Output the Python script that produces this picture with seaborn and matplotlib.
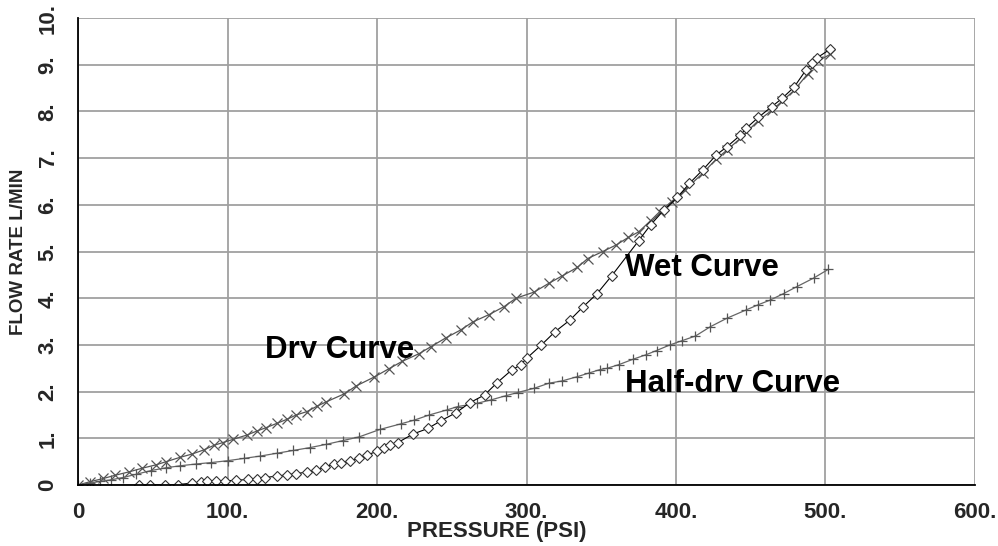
import matplotlib
matplotlib.use("Agg")
import matplotlib.pyplot as plt
import seaborn as sns
from matplotlib.transforms import Bbox, TransformedBbox

# ---- data ----
dry_x = [0, 8, 17, 25, 34, 43, 52, 59, 68, 76, 84, 91, 97, 104, 113, 120, 126, 133, 140, 146,
         153, 160, 166, 178, 186, 198, 208, 217, 228, 236, 246, 256, 264, 275, 285, 293, 305,
         315, 324, 334, 341, 351, 360, 368, 375, 383, 389, 397, 406, 418, 427, 434, 443, 447,
         455, 464, 471, 479, 488, 491, 495, 503]
dry_y = [0, 0.07, 0.14, 0.21, 0.28, 0.36, 0.43, 0.50, 0.59, 0.66, 0.75, 0.85, 0.91, 0.98, 1.07,
         1.16, 1.23, 1.32, 1.41, 1.50, 1.57, 1.69, 1.78, 1.95, 2.12, 2.31, 2.49, 2.65, 2.81, 2.96,
         3.15, 3.32, 3.49, 3.65, 3.82, 4.0, 4.13, 4.32, 4.48, 4.66, 4.85, 5.0, 5.14, 5.3, 5.42,
         5.66, 5.85, 6.07, 6.32, 6.68, 6.98, 7.17, 7.42, 7.55, 7.8, 8.02, 8.22, 8.45, 8.8, 8.95,
         9.08, 9.22]

wet_x = [41, 48, 58, 67, 76, 82, 86, 92, 98, 106, 114, 120, 125, 133, 140, 146, 153, 159, 165,
         171, 176, 182, 188, 193, 200, 205, 209, 214, 224, 234, 243, 253, 262, 272, 280, 290,
         296, 300, 310, 319, 329, 338, 347, 357, 375, 383, 392, 401, 409, 418, 427, 434, 443,
         447, 455, 464, 471, 479, 487, 491, 494, 503]
wet_y = [0, 0, 0, 0.01, 0.04, 0.06, 0.08, 0.09, 0.09, 0.1, 0.12, 0.13, 0.16, 0.19, 0.22, 0.24,
         0.28, 0.32, 0.39, 0.44, 0.48, 0.52, 0.57, 0.64, 0.72, 0.8, 0.85, 0.91, 1.09, 1.21, 1.38,
         1.55, 1.76, 1.93, 2.18, 2.46, 2.57, 2.71, 3.0, 3.28, 3.53, 3.82, 4.09, 4.48, 5.23, 5.57,
         5.89, 6.16, 6.46, 6.75, 7.07, 7.24, 7.49, 7.64, 7.87, 8.1, 8.28, 8.52, 8.89, 9.03, 9.14,
         9.33]

half_x = [0, 8, 15, 22, 30, 39, 49, 59, 68, 79, 89, 100, 111, 122, 133, 144, 155, 166, 177,
          188, 202, 216, 225, 235, 247, 254, 267, 276, 286, 294, 305, 315, 324, 334, 342, 349,
          354, 362, 371, 380, 387, 396, 404, 413, 423, 434, 447, 455, 463, 472, 481, 492, 502]
half_y = [0, 0.04, 0.08, 0.11, 0.16, 0.23, 0.31, 0.37, 0.41, 0.45, 0.48, 0.52, 0.57, 0.62,
          0.68, 0.74, 0.8, 0.87, 0.95, 1.03, 1.19, 1.31, 1.39, 1.5, 1.61, 1.68, 1.75, 1.82, 1.91,
          1.98, 2.07, 2.18, 2.23, 2.32, 2.4, 2.47, 2.5, 2.58, 2.69, 2.79, 2.88, 3.0, 3.09, 3.19,
          3.39, 3.57, 3.75, 3.86, 3.96, 4.1, 4.25, 4.43, 4.62]

x_ticks = [0, 100, 200, 300, 400, 500, 600]
x_labels = ["0", "100.", "200.", "300.", "400.", "500.", "600."]
y_ticks = list(range(0, 11))
y_labels = ["0"] + [f"{v}." for v in range(1, 11)]

labels = ["Dry Curve", "Wet Curve", "Half-dry Curve"]
label_pos = [(125, 2.72), (366, 4.47), (366, 1.99)]

# ---- style ----
sns.set_theme(style="white")
plt.rcParams["font.family"] = ["Liberation Sans", "DejaVu Sans"]

fig = plt.figure(figsize=(9.98, 5.46), dpi=100)
ax = fig.add_axes([78 / 998, 61 / 546, 897 / 998, 467 / 546])

sns.lineplot(x=dry_x, y=dry_y, ax=ax, sort=False, color="#555555", lw=0.9,
             marker="x", markersize=7, mec="#555555", mew=0.9)
sns.lineplot(x=half_x, y=half_y, ax=ax, sort=False, color="#666666", lw=0.9,
             marker="+", markersize=7, mec="#555555", mew=0.9)
sns.lineplot(x=wet_x, y=wet_y, ax=ax, sort=False, color="black", lw=0.8,
             marker="D", markersize=5, mfc="white", mec="#333333", mew=0.8)

ax.set_xlim(0, 600)
ax.set_ylim(0, 10)
ax.set_xticks(x_ticks)
ax.set_xticklabels(x_labels, fontsize=16, fontweight="bold")
ax.set_yticks(y_ticks)
ax.set_yticklabels(y_labels, fontsize=16, fontweight="bold", rotation=90, va="center")
ax.grid(True, color="#a0a0a0", lw=1.3)
ax.set_axisbelow(True)
for s in ["top", "right"]:
    ax.spines[s].set_visible(False)
for s in ["left", "bottom"]:
    ax.spines[s].set_color("black")
    ax.spines[s].set_linewidth(1.3)
ax.tick_params(axis="both", direction="out", length=9, width=1.2, color="black")
ax.tick_params(axis="x", pad=3)
ax.tick_params(axis="y", pad=5)

ax.set_xlabel("PRESSURE (PSI)", fontsize=16, fontweight="bold")
ax.xaxis.set_label_coords((497 - 78) / 897, -0.078)
ax.set_ylabel("FLOW RATE L/MIN", fontsize=13.5, fontweight="bold")
ax.yaxis.set_label_coords(-0.057, 0.5)

for txt, (tx, ty) in zip(labels, label_pos):
    t = ax.text(tx, ty, txt, fontsize=22.5, fontweight="bold", color="black",
                ha="left", va="baseline")
    clip = TransformedBbox(Bbox([[tx - 50, ty], [tx + 300, ty + 3]]), ax.transData)
    t.set_clip_box(clip)
    t.set_clip_on(True)

fig.savefig("out.png", dpi=100)
